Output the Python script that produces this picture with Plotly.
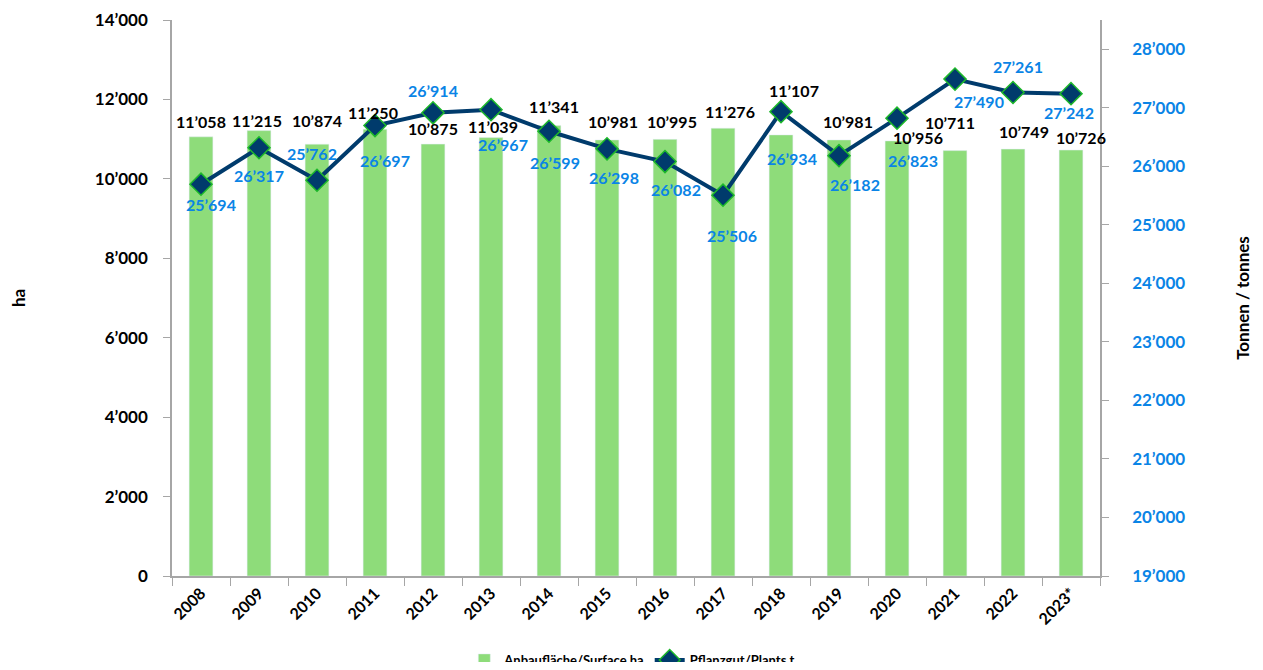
import plotly.graph_objects as go

years = ["2008", "2009", "2010", "2011", "2012", "2013", "2014", "2015",
         "2016", "2017", "2018", "2019", "2020", "2021", "2022", "2023*"]
surface_ha = [11058, 11215, 10874, 11250, 10875, 11039, 11341, 10981,
              10995, 11276, 11107, 10981, 10956, 10711, 10749, 10726]
plants_t = [25694, 26317, 25762, 26697, 26914, 26967, 26599, 26298,
            26082, 25506, 26934, 26182, 26823, 27490, 27261, 27242]

left_ticks = [0, 2000, 4000, 6000, 8000, 10000, 12000, 14000]
right_ticks = [19000, 20000, 21000, 22000, 23000, 24000, 25000, 26000, 27000, 28000]

bar_name = "Anbaufläche/Surface ha"
line_name = "Pflanzgut/Plants t"

# label offsets (pixels): (xshift, yshift)
bar_label_shift = [(0, 15), (-2, 10), (0, 24), (-2, 17), (0, 16), (2, 11), (5, 19), (6, 18),
                   (7, 18), (7, 17), (13, 44), (9, 18), (21, 3), (-5, 28), (11, 18), (10, 13)]
line_label_shift = [(10, -20), (0, -28), (-5, 27), (10, -35), (0, 22), (12, -35), (6, -31), (7, -29),
                    (11, -28), (9, -40), (11, -47), (16, -29), (16, -42), (24, -22), (5, 26), (-2, -19)]


def fmt(v):
    return f"{v:,}".replace(",", "’")


FONT = "Lato"
BLUE = "#0A84E6"
GREEN = "#8EDC7A"
NAVY = "#003B6C"
AXIS = "#A6A6A6"

xpos = list(range(len(years)))
boundaries = [i - 0.5 for i in range(len(years) + 1)]

fig = go.Figure()
fig.add_trace(go.Bar(x=xpos, y=surface_ha, name=bar_name, marker_color=GREEN,
                     width=0.41, yaxis="y"))
fig.add_trace(go.Scatter(x=xpos, y=plants_t, name=line_name, mode="lines+markers",
                         line=dict(color=NAVY, width=4),
                         marker=dict(symbol="diamond", size=17, color=NAVY,
                                     line=dict(color="#1DB82A", width=1.5)),
                         yaxis="y2"))

ann = []
for xi, v, (dx, dy) in zip(xpos, surface_ha, bar_label_shift):
    ann.append(dict(x=xi, y=v, xref="x", yref="y", text=fmt(v), showarrow=False,
                    xshift=dx, yshift=dy,
                    font=dict(family=FONT, size=16, color="black", weight="bold")))
for xi, v, (dx, dy) in zip(xpos, plants_t, line_label_shift):
    ann.append(dict(x=xi, y=v, xref="x", yref="y2", text=fmt(v), showarrow=False,
                    xshift=dx, yshift=dy,
                    font=dict(family=FONT, size=16, color=BLUE, weight="bold")))

fig.update_layout(
    width=1247, height=654,
    margin=dict(l=164, r=155, t=12, b=86, autoexpand=False),
    paper_bgcolor="white", plot_bgcolor="white",
    font=dict(family=FONT, size=16, color="black"),
    showlegend=True,
    legend=dict(orientation="h", x=0.496, xanchor="center", y=-0.151, yanchor="middle",
                font=dict(family=FONT, size=13, color="black", weight="bold")),
    xaxis=dict(range=[-0.5, len(years) - 0.5], tickvals=xpos, ticktext=years,
               automargin=False,
               showline=True, linecolor=AXIS, linewidth=1.5, ticks="",
               tickangle=-45, zeroline=False,
               minor=dict(tickvals=boundaries, ticks="outside", ticklen=8, tickcolor=AXIS,
                          showgrid=False),
               tickfont=dict(family=FONT, size=16, color="black", weight="bold"),
               showgrid=False),
    yaxis=dict(range=[0, 14000], tickvals=left_ticks, ticktext=[fmt(v) for v in left_ticks],
               automargin=False,
               showline=True, linecolor=AXIS, linewidth=1.5, ticks="outside", ticklen=7,
               ticklabelstandoff=12,
               tickcolor=AXIS, showgrid=False, zeroline=False,
               tickfont=dict(family=FONT, size=17, color="black", weight="bold"),
               title=dict(text="ha", standoff=72,
                          font=dict(family=FONT, size=17, color="black", weight="bold"))),
    yaxis2=dict(range=[19000, 28500], overlaying="y", side="right",
                automargin=False,
                tickvals=right_ticks, ticktext=[fmt(v) for v in right_ticks],
                showline=True, linecolor=AXIS, linewidth=1.5, ticks="outside", ticklen=7,
                ticklabelstandoff=20,
                tickcolor=AXIS, showgrid=False, zeroline=False,
                tickfont=dict(family=FONT, size=17, color=BLUE, weight="bold"),
                title=dict(text="Tonnen / tonnes", standoff=53,
                           font=dict(family=FONT, size=17, color="black", weight="bold"))),
    annotations=ann,
)

fig.write_html("out.html")
